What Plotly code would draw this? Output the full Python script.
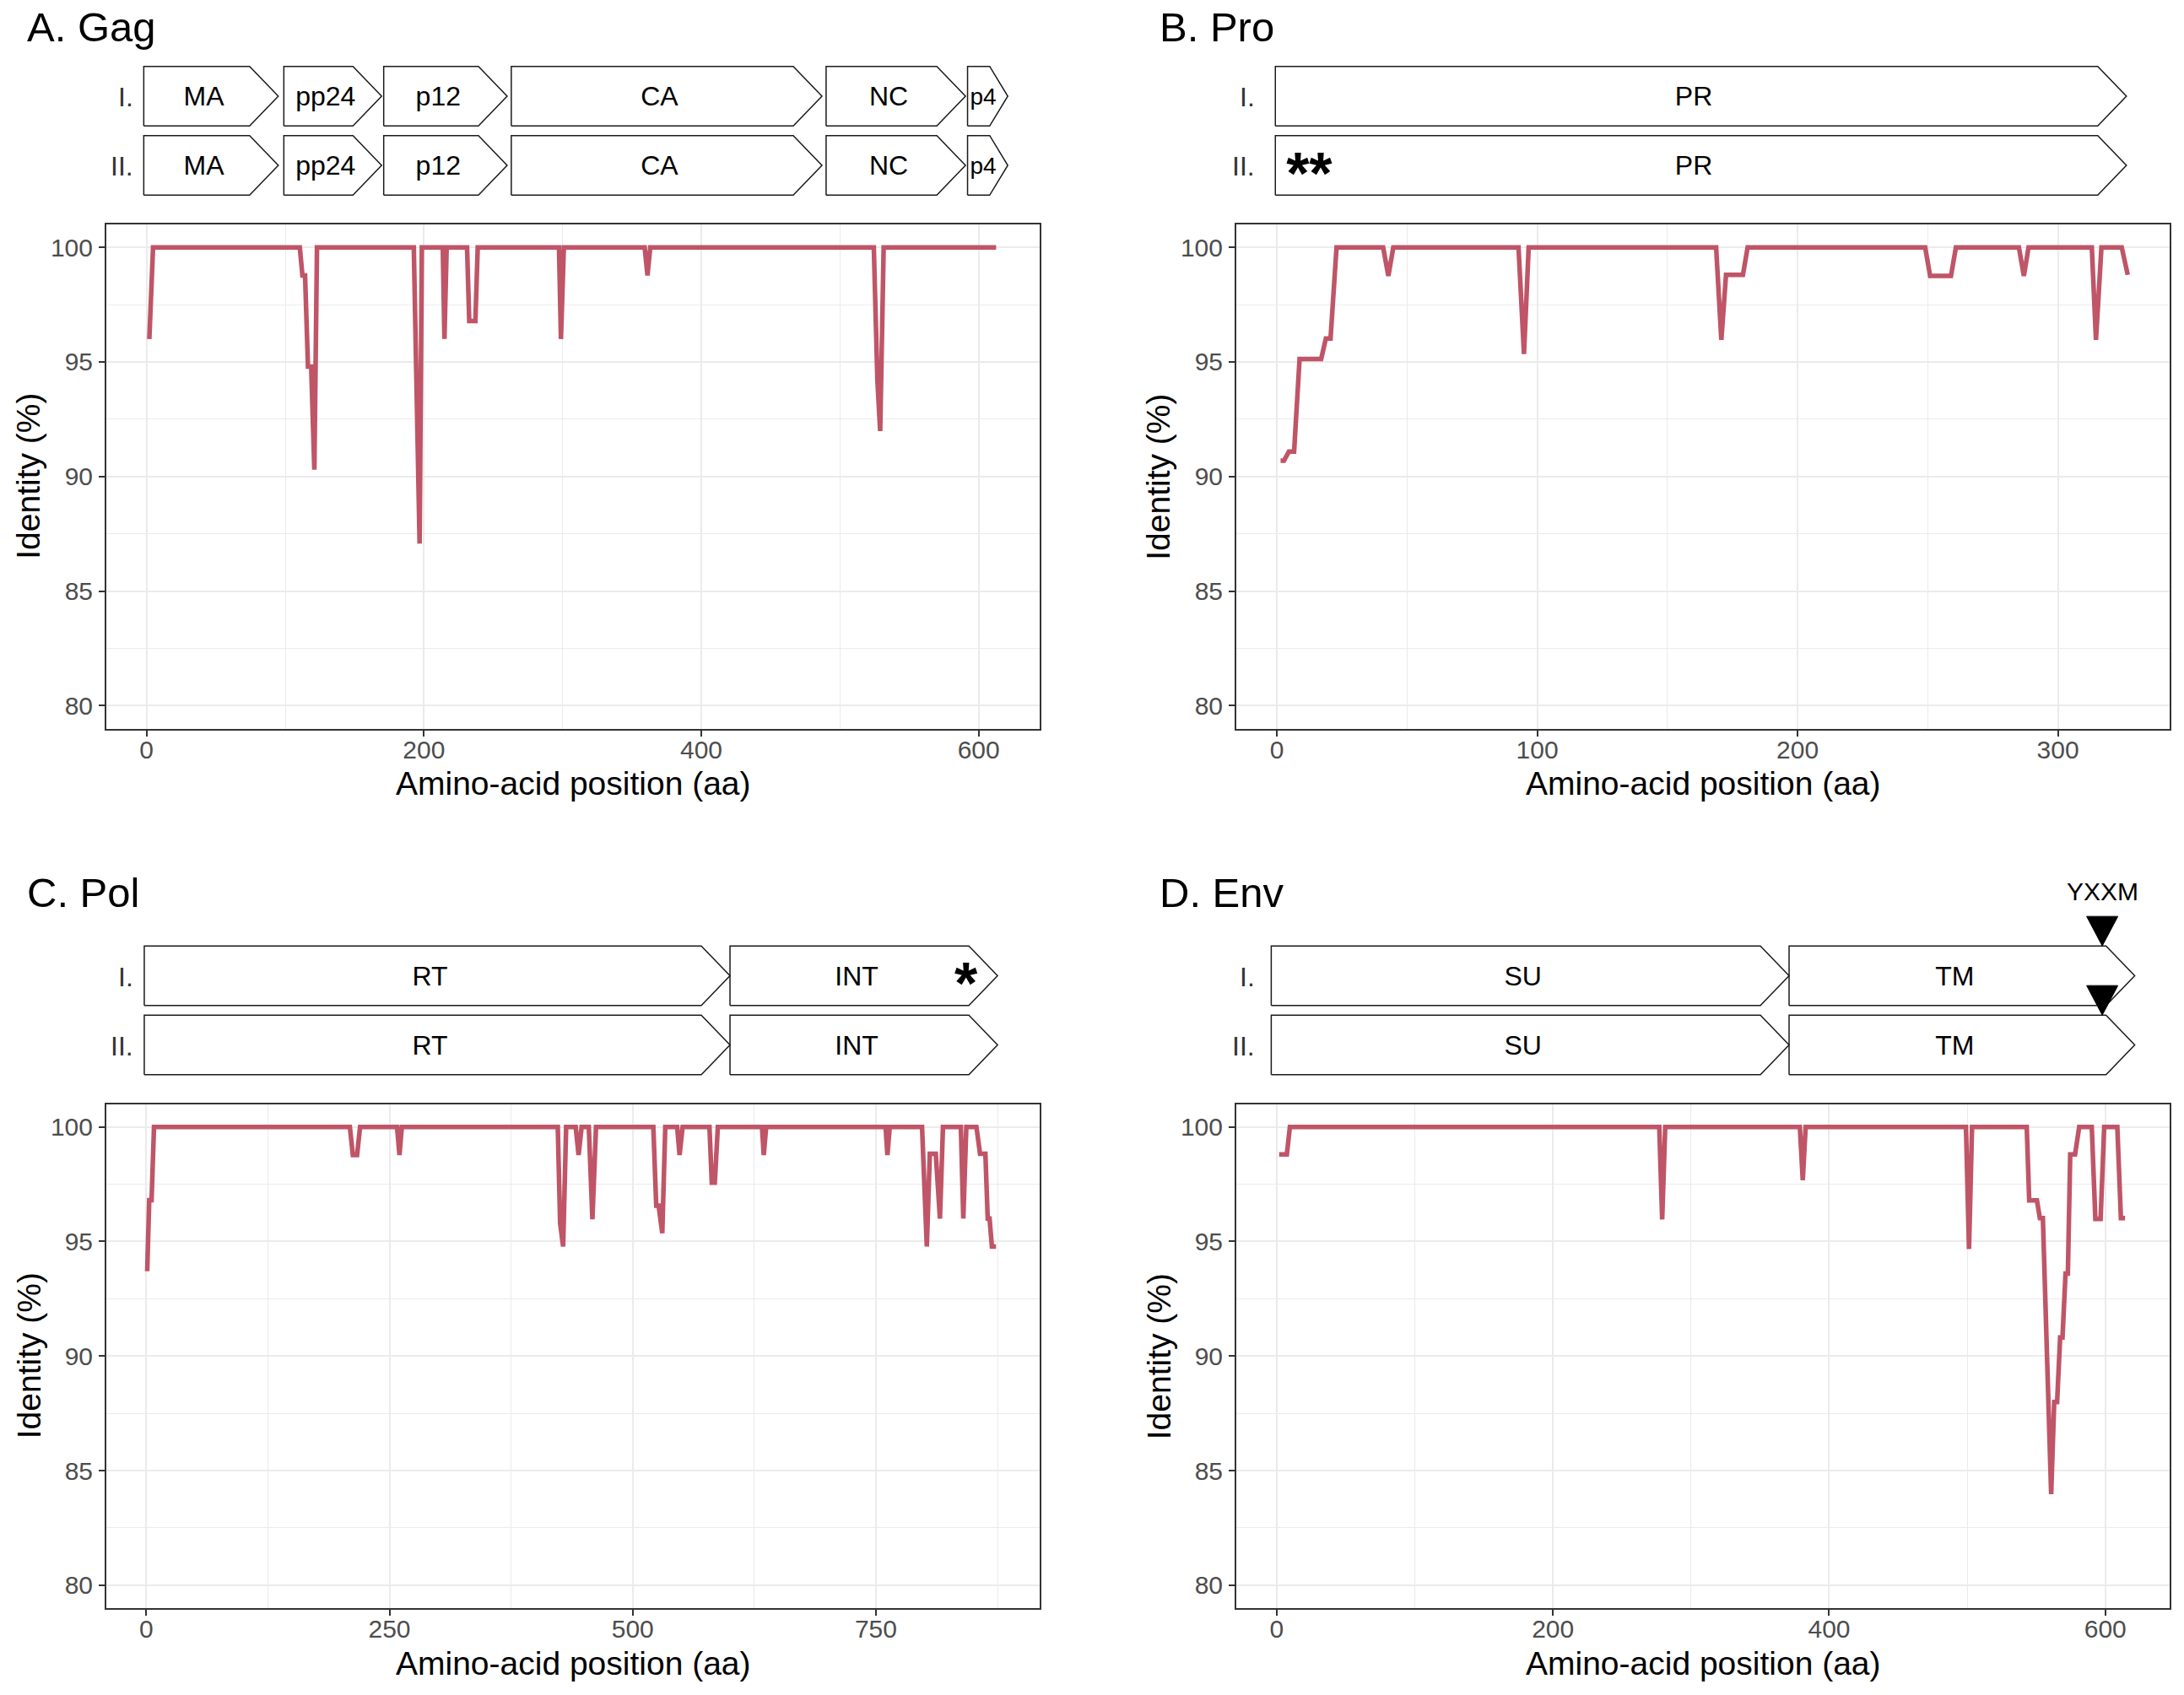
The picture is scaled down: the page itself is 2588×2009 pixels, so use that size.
import plotly.graph_objects as go

W, H = 2588, 2009
PAGE_PAD = 8   # default body margin of the html page

# ---- identity profiles: vertices of each line ----
gag_pos = [2, 4.7, 110.5, 112.4, 114.3, 116.4, 118.7, 121, 122.9, 192.7, 196.9, 198.5,
           213.6, 214.8, 216.4, 231.1, 232.7, 237.1, 238.8, 297.4, 298.8, 300.9,
           359.2, 361.2, 363.2, 524.4, 527, 529, 531.5, 612.6]
gag_id = [96, 100, 100, 98.77, 98.77, 94.8, 94.8, 90.3, 100, 100, 87.07, 100,
          100, 96, 100, 100, 96.78, 96.78, 100, 100, 96, 100,
          100, 98.77, 100, 100, 94.17, 91.98, 100, 100]

pro_pos = [1.4, 2.7, 4.6, 6.6, 8.7, 17, 18.8, 20.6, 22.9, 40.8, 42.8, 44.7, 92.8, 94.9,
           96.7, 168.7, 170.7, 172.5, 179, 180.8, 249, 250.9, 258.9, 260.8, 285, 286.9,
           288.7, 313, 314.6, 316.7, 324.5, 326.8]
pro_id = [90.69, 90.69, 91.09, 91.09, 95.13, 95.13, 96.02, 96.02, 100, 100, 98.75, 100,
          100, 95.34, 100, 100, 95.96, 98.8, 98.8, 100, 100, 98.75, 98.75, 100, 100,
          98.75, 100, 100, 95.96, 100, 100, 98.8]

pol_pos = [1, 3.1, 5.5, 8, 209.3, 212.4, 216.7, 219.8, 257.8, 260.3, 262.7, 423, 425.4,
           428.5, 431.6, 441.4, 444.4, 447.5, 454.9, 458.6, 462.3, 521.2, 524.2, 526.7,
           530.4, 533.5, 545.7, 548.2, 551.3, 578.9, 581.3, 584.4, 587.5, 632.9, 634.7,
           637.2, 759.9, 761.8, 764.2, 797.4, 802.3, 805.4, 811.5, 815.8, 818.9, 837.3,
           839.8, 842.9, 853.3, 857, 862.5, 864.9, 866.8, 869.2, 873.5]
pol_id = [93.7, 96.8, 96.8, 100, 100, 98.77, 98.77, 100, 100, 98.77, 100, 100, 95.8,
          94.78, 100, 100, 98.77, 100, 100, 95.97, 100, 100, 96.56, 96.56,
          95.36, 100, 100, 98.77, 100, 100, 97.57, 97.57, 100, 100, 98.77,
          100, 100, 98.77, 100, 100, 94.78, 98.83, 98.83, 96.0, 100, 100,
          96.0, 100, 100, 98.83, 98.83, 96.0, 96.0, 94.78, 94.78]

env_pos = [1.7, 7.3, 9.5, 277, 279.1, 281.3, 378.8, 380.9, 383, 499.1, 501.3, 503.5,
           543.1, 544.9, 550.5, 552.6, 554.8, 560.8, 563, 565.1, 567.3, 569, 571.2,
           572.9, 574.6, 578.1, 581.1, 590.2, 592.8, 596.6, 599.2, 608.7, 611.3, 614.3]
env_id = [98.8, 98.8, 100, 100, 95.96, 100, 100, 97.67, 100, 100, 94.67, 100,
          100, 96.79, 96.79, 96.02, 96.02, 83.97, 87.99, 87.99, 90.81, 90.81, 93.6,
          93.6, 98.8, 98.8, 100, 100, 95.98, 95.98, 100, 100, 96.02, 96.02]

# ---- gene maps (aa coordinates) ----
gag_genes = ["MA", "pp24", "p12", "CA", "NC", "p4"]
gag_start = [-2, 99, 171, 263, 490, 592]
gag_end = [95, 169.5, 260, 487, 590.5, 621]

pro_genes = ["PR"]
pro_start = [-0.6]
pro_end = [326.3]

pol_genes = ["RT", "INT"]
pol_start = [-2, 600]
pol_end = [600, 875]

env_genes = ["SU", "TM"]
env_start = [-4, 371]
env_end = [371, 621.3]

row_labels = ["I.", "II."]

# marks on the gene maps: (position, row index 0 = I., 1 = II.)
pro_stars_pos, pro_stars_row, pro_stars_txt = [12.4], [1], ["**"]
pol_stars_pos, pol_stars_row, pol_stars_txt = [842.5], [0], ["*"]
env_motif_pos = [597.8, 597.8]
env_motif_row = [0, 1]
env_motif_name = "YXXM"

FONT = "Liberation Sans, Arial, sans-serif"
LINE_COL = "#BF5567"


def px(x):
    return min(1, max(0, (x - PAGE_PAD) / (W - 2 * PAGE_PAD)))


def py(y):
    return min(1, max(0, 1 - (y - PAGE_PAD) / (H - 2 * PAGE_PAD)))


panels = [
    dict(title="A. Gag", pos=gag_pos, ident=gag_id, genes=gag_genes, gs=gag_start, ge=gag_end,
         left=126, top=266, xr=[-29, 644], dtick=200, minor=100, rowlab=160),
    dict(title="B. Pro", pos=pro_pos, ident=pro_id, genes=pro_genes, gs=pro_start, ge=pro_end,
         left=1465, top=266, xr=[-15.6, 342.9], dtick=100, minor=50, rowlab=1489),
    dict(title="C. Pol", pos=pol_pos, ident=pol_id, genes=pol_genes, gs=pol_start, ge=pol_end,
         left=126, top=1308.5, xr=[-41, 918.3], dtick=250, minor=125, rowlab=160),
    dict(title="D. Env", pos=env_pos, ident=env_id, genes=env_genes, gs=env_start, ge=env_end,
         left=1465, top=1308.5, xr=[-29.3, 646.6], dtick=200, minor=100, rowlab=1489),
]

PW, PH = 1106, 597.5      # plot panel size in px
ROW_PX = 82               # px per gene-row unit
HALF = 0.431              # half box height (row units)
HEAD_PX = 34              # arrow head length in px

fig = go.Figure()
layout = dict(width=W - 2 * PAGE_PAD, height=H - 2 * PAGE_PAD,
              margin=dict(l=0, r=0, t=0, b=0),
              paper_bgcolor="white", plot_bgcolor="white", showlegend=False,
              font=dict(family=FONT, color="black"))
annotations = []

for i, p in enumerate(panels):
    k = i + 1
    g = i + 5
    xa = "x" if k == 1 else f"x{k}"
    ya = "y" if k == 1 else f"y{k}"
    xg, yg = f"x{g}", f"y{g}"
    xdom = [px(p["left"]), px(p["left"] + PW)]
    ydom = [py(p["top"] + PH), py(p["top"])]

    # identity line
    fig.add_trace(go.Scatter(x=p["pos"], y=p["ident"], mode="lines", xaxis=xa, yaxis=ya,
                             line=dict(color=LINE_COL, width=5.5), hoverinfo="x+y"))

    common = dict(showline=True, mirror=True, linecolor="#333333", linewidth=2,
                  ticks="outside", ticklen=7, tickwidth=2, tickcolor="#333333",
                  showgrid=True, gridcolor="#EBEBEB", gridwidth=2, zeroline=False,
                  tickfont=dict(size=30, color="#4D4D4D", family=FONT))
    layout["xaxis" if k == 1 else f"xaxis{k}"] = dict(
        common, domain=xdom, anchor=ya, range=p["xr"], tick0=0, dtick=p["dtick"],
        minor=dict(dtick=p["minor"], showgrid=True, gridcolor="#EBEBEB", gridwidth=1.2),
        ticklabelstandoff=-10)
    layout["yaxis" if k == 1 else f"yaxis{k}"] = dict(
        common, domain=ydom, anchor=xa, range=[79, 101], tick0=80, dtick=5,
        minor=dict(dtick=2.5, showgrid=True, gridcolor="#EBEBEB", gridwidth=1.2),
        ticklabelstandoff=1)

    # gene map axes: rows I. (y=2) and II. (y=1)
    row2_px = p["top"] - 70
    gy0, gy1 = 0.3, 3.2
    gdom = [py(row2_px + (1 - gy0) * ROW_PX), py(row2_px - (gy1 - 1) * ROW_PX)]
    layout[f"xaxis{g}"] = dict(domain=xdom, anchor=yg, range=p["xr"], visible=False)
    layout[f"yaxis{g}"] = dict(domain=gdom, anchor=xg, range=[gy0, gy1], visible=False)

    ppa = PW / (p["xr"][1] - p["xr"][0])
    bx, by, lx, ly, lt, ls = [], [], [], [], [], []
    for r in (2, 1):
        for name, x0, x1 in zip(p["genes"], p["gs"], p["ge"]):
            h = min(HEAD_PX / ppa, 0.45 * (x1 - x0))
            bx += [x0, x1 - h, x1, x1 - h, x0, x0, None]
            by += [r - HALF, r - HALF, r, r + HALF, r + HALF, r - HALF, None]
            lx.append((x0 + x1) / 2 - h / 4)
            ly.append(r - 0.04)
            lt.append(name)
            ls.append(32 if (x1 - x0) * ppa > 60 else 28)
    fig.add_trace(go.Scatter(x=bx, y=by, mode="lines", fill="toself", fillcolor="white",
                             line=dict(color="#1A1A1A", width=1.5), xaxis=xg, yaxis=yg,
                             hoverinfo="skip"))
    fig.add_trace(go.Scatter(x=lx, y=ly, mode="text", text=lt, textposition="middle center",
                             textfont=dict(size=ls, color="black", family=FONT),
                             xaxis=xg, yaxis=yg, hoverinfo="skip", cliponaxis=False))

    # row labels
    for j, lab in enumerate(row_labels):
        annotations.append(dict(text=lab, xref="paper", yref="paper", x=px(p["rowlab"]),
                                y=py(row2_px - (1 - j) * ROW_PX + 1), xanchor="right",
                                yanchor="middle", showarrow=False,
                                font=dict(size=32, color="#333333", family=FONT)))

    # panel title
    annotations.append(dict(text=p["title"], xref="paper", yref="paper",
                            x=px(30 if p["left"] < 1000 else 1372),
                            y=py(p["top"] - 234 if p["top"] < 1000 else p["top"] - 250.5),
                            xanchor="left", yanchor="middle", showarrow=False,
                            font=dict(size=49, color="black", family=FONT)))
    # axis titles
    annotations.append(dict(text="Amino-acid position (aa)", xref="paper", yref="paper",
                            x=px(p["left"] + PW / 2), y=py(p["top"] + PH + 65),
                            xanchor="center", yanchor="middle", showarrow=False,
                            font=dict(size=39, color="black", family=FONT)))
    annotations.append(dict(text="Identity (%)", xref="paper", yref="paper",
                            x=px(p["left"] - 92), y=py(p["top"] + PH / 2), textangle=-90,
                            xanchor="center", yanchor="middle", showarrow=False,
                            font=dict(size=39, color="black", family=FONT)))

# asterisks (Pro row II, Pol row I)
for k_ax, sp, sr, st in ((6, pro_stars_pos, pro_stars_row, pro_stars_txt),
                         (7, pol_stars_pos, pol_stars_row, pol_stars_txt)):
    fig.add_trace(go.Scatter(x=sp, y=[2 - r - 0.2 for r in sr], mode="text", text=st,
                             textposition="middle center",
                             textfont=dict(size=70, color="black", family=FONT, weight="bold"),
                             xaxis=f"x{k_ax}", yaxis=f"y{k_ax}", hoverinfo="skip",
                             cliponaxis=False))

# YXXM motif triangles on Env
tri_h = 35 / ROW_PX
env_ppa = PW / (panels[3]["xr"][1] - panels[3]["xr"][0])
tri_w = 18.5 / env_ppa
tx, ty = [], []
for xm, r in zip(env_motif_pos, env_motif_row):
    base = 2 - r + HALF
    tx += [xm - tri_w, xm + tri_w, xm, xm - tri_w, None]
    ty += [base + tri_h, base + tri_h, base, base + tri_h, None]
fig.add_trace(go.Scatter(x=tx, y=ty, mode="lines", fill="toself", fillcolor="black",
                         line=dict(color="black", width=1), xaxis="x8", yaxis="y8",
                         hoverinfo="skip"))
annotations.append(dict(text=env_motif_name, xref="x8", yref="paper", x=env_motif_pos[0],
                        y=py(1056), xanchor="center", yanchor="middle", showarrow=False,
                        font=dict(size=30, color="black", family=FONT)))

layout["annotations"] = annotations
fig.update_layout(**layout)
fig.write_html("out.html")
